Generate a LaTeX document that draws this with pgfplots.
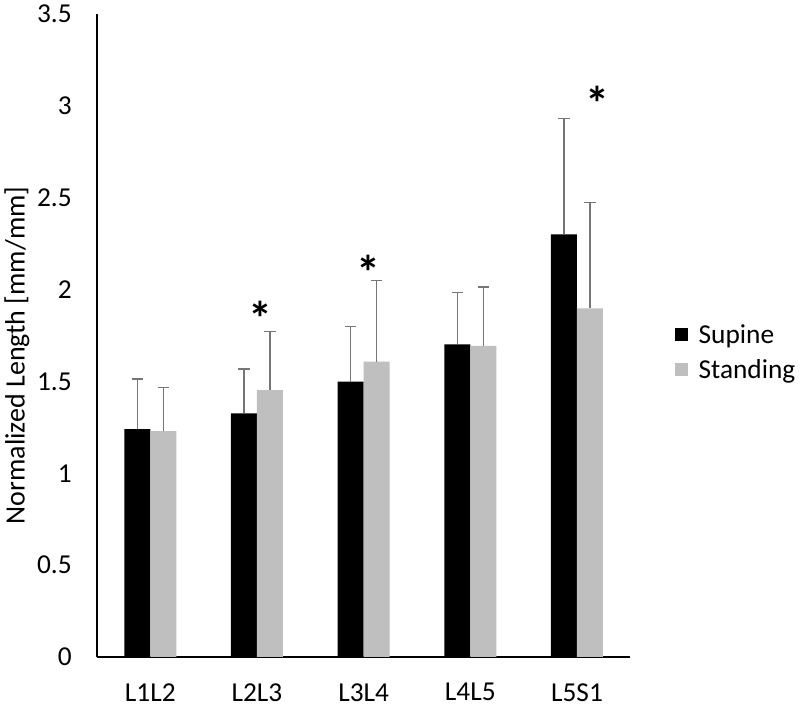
\documentclass[border=0pt]{standalone}
\usepackage{pgfplots}
\pgfplotsset{compat=1.18}
\usepackage{fontspec}
\setmainfont{Carlito}
\definecolor{standgray}{RGB}{191,191,191}
\definecolor{errgray}{RGB}{118,118,118}
\begin{document}
\begin{tikzpicture}
\useasboundingbox (-72.75pt,-36.75pt) rectangle (527.25pt,492.75pt);
\begin{axis}[
  at={(0,0)}, anchor=south west,
  scale only axis, width=400pt, height=482.25pt,
  ybar=0pt, bar width=19.5pt,
  xmin=-0.5, xmax=4.5, ymin=0, ymax=3.5,
  xtick={0,1,2,3,4},
  xticklabels={L1L2,L2L3,L3L4,L4L5,L5S1},
  ytick={0,0.5,1,1.5,2,2.5,3,3.5},
  axis x line*=bottom, axis y line*=left,
  axis line style={-, line width=1.1pt, black},
  major tick length=0pt,
  /pgf/number format/assume math mode=true,
  tick label style={font=\fontsize{20.5}{22}\selectfont},
  yticklabel style={inner sep=0pt, anchor=east, xshift=-18.75pt},
  xticklabel style={inner sep=0pt, anchor=north, yshift=-19.5pt},
  ylabel={Normalized Length [mm/mm]},
  ylabel style={font=\fontsize{21}{23}\selectfont, at={(axis description cs:-0.15,0.469)}, anchor=center},
  legend style={draw=none, at={(1.0826,0.4736)}, anchor=west, inner sep=0pt,
    font=\fontsize{20.5}{22}\selectfont, row sep=10pt, legend cell align=left,
    nodes={inner xsep=0pt, inner ysep=0pt}},
  legend image code/.code={\fill[#1] (0pt,-4.5pt) rectangle (9.75pt,5.25pt); \path (18pt,0pt);},
  error bars/y dir=plus, error bars/y explicit,
  error bars/error bar style={errgray, line width=1.2pt},
  error bars/error mark options={rotate=90, errgray, mark size=4.2pt, line width=1.2pt},
  clip=false,
]
\addplot[fill=black, draw=none] coordinates {
  (0,1.241) +- (0,0.272)
  (1,1.326) +- (0,0.242)
  (2,1.499) +- (0,0.299)
  (3,1.702) +- (0,0.281)
  (4,2.301) +- (0,0.631)
};
\addlegendentry{Supine}
\addplot[fill=standgray, draw=none] coordinates {
  (0,1.230) +- (0,0.238)
  (1,1.453) +- (0,0.318)
  (2,1.608) +- (0,0.441)
  (3,1.693) +- (0,0.320)
  (4,1.898) +- (0,0.575)
};
\addlegendentry{Standing}
\node[font=\fontsize{36}{36}\selectfont\bfseries, inner sep=0pt] at (axis cs:1.029,1.845) {*};
\node[font=\fontsize{36}{36}\selectfont\bfseries, inner sep=0pt] at (axis cs:2.045,2.095) {*};
\node[font=\fontsize{36}{36}\selectfont\bfseries, inner sep=0pt] at (axis cs:4.19,3.015) {*};
\end{axis}
\end{tikzpicture}
\end{document}
